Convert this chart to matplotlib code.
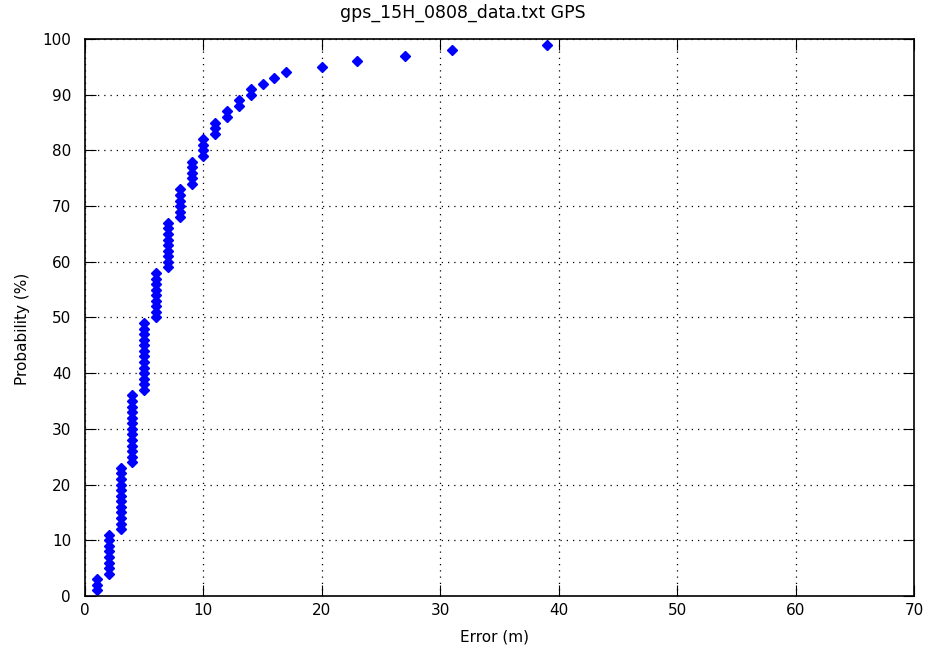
import matplotlib.pyplot as plt

# error value (m) for each percentile point
error_m = [1, 1, 1,
           2, 2, 2, 2, 2, 2, 2, 2,
           3, 3, 3, 3, 3, 3, 3, 3, 3, 3, 3, 3,
           4, 4, 4, 4, 4, 4, 4, 4, 4, 4, 4, 4, 4,
           5, 5, 5, 5, 5, 5, 5, 5, 5, 5, 5, 5, 5,
           6, 6, 6, 6, 6, 6, 6, 6, 6,
           7, 7, 7, 7, 7, 7, 7, 7, 7,
           8, 8, 8, 8, 8, 8,
           9, 9, 9, 9, 9,
           10, 10, 10, 10,
           11, 11, 11,
           12, 12,
           13, 13,
           14, 14,
           15, 16, 17, 20, 23, 27, 31, 39]

probability = [1, 2, 3, 4, 5, 6, 7, 8, 9, 10,
               11, 12, 13, 14, 15, 16, 17, 18, 19, 20,
               21, 22, 23, 24, 25, 26, 27, 28, 29, 30,
               31, 32, 33, 34, 35, 36, 37, 38, 39, 40,
               41, 42, 43, 44, 45, 46, 47, 48, 49, 50,
               51, 52, 53, 54, 55, 56, 57, 58, 59, 60,
               61, 62, 63, 64, 65, 66, 67, 68, 69, 70,
               71, 72, 73, 74, 75, 76, 77, 78, 79, 80,
               81, 82, 83, 84, 85, 86, 87, 88, 89, 90,
               91, 92, 93, 94, 95, 96, 97, 98, 99]

xticks = [0, 10, 20, 30, 40, 50, 60, 70]
yticks = [0, 10, 20, 30, 40, 50, 60, 70, 80, 90, 100]

plt.rcParams['font.family'] = ['DejaVu Sans']

fig = plt.figure(figsize=(9.3, 6.5), dpi=100)
ax = fig.add_axes([0.0914, 0.0831, 0.8914, 0.8569])

ax.plot(error_m, probability, linestyle='none', marker='D', markersize=5,
        color='#0000ff', markeredgecolor='#0000ff')

ax.set_xlim(0, 70)
ax.set_ylim(0, 100)
ax.set_xticks(xticks)
ax.set_yticks(yticks)
ax.grid(True, linestyle=(0, (1, 4)), color='black', linewidth=0.9)
ax.tick_params(direction='in', top=True, right=True, length=8, labelsize=11)
ax.tick_params(axis='y', pad=10)
ax.tick_params(axis='x', pad=5)
for s in ax.spines.values():
    s.set_linewidth(1.2)

# MATLAB-style label placement
fig.text(0.498, 0.98, 'gps_15H_0808_data.txt GPS', fontsize=12.5,
         ha='center', va='center')
fig.text(0.532, 0.02, 'Error (m)', fontsize=11, ha='center', va='center')
fig.text(0.024, 0.494, 'Probability (%)', fontsize=11, ha='center',
         va='center', rotation=90)

fig.savefig('out.png')
